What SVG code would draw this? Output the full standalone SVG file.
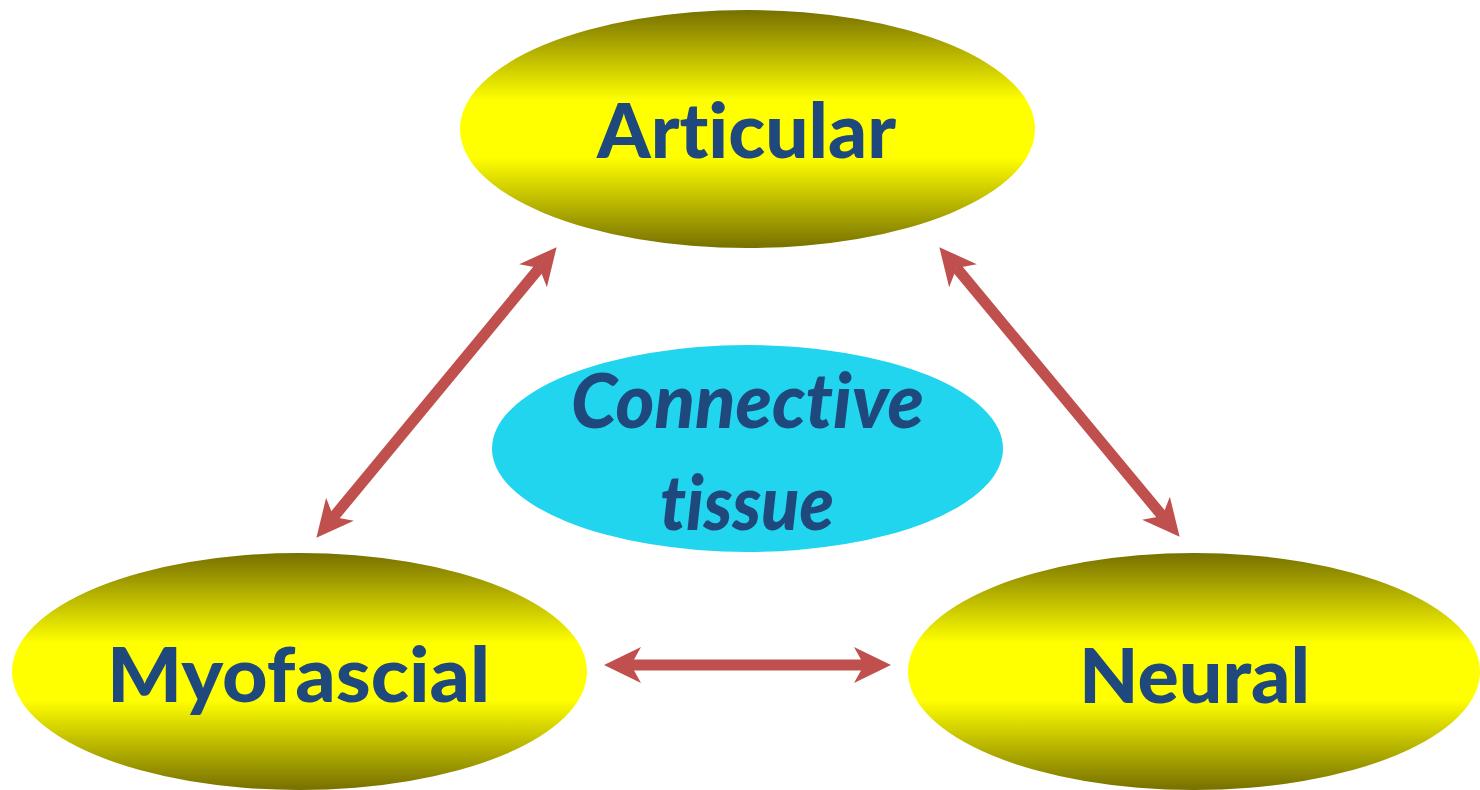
<svg xmlns="http://www.w3.org/2000/svg" width="1480" height="790" viewBox="0 0 1480 790">
<defs>
<linearGradient id="gold" x1="0" y1="0" x2="0" y2="1">
<stop offset="0" stop-color="#767000"/>
<stop offset="0.38" stop-color="#ffff00"/>
<stop offset="0.62" stop-color="#ffff00"/>
<stop offset="1" stop-color="#767000"/>
</linearGradient>
<marker id="head" markerUnits="userSpaceOnUse" viewBox="-12 -20 40 40" refX="0" refY="0" markerWidth="40" markerHeight="40" orient="auto-start-reverse">
<path d="M27,0 L-10,-18 L0,0 L-10,18 Z" fill="#c0504d"/>
</marker>
<style>
.node{fill:url(#gold);}
.lbl{font-family:"Lato","Open Sans","DejaVu Sans",sans-serif;font-weight:900;font-size:77px;fill:#1f497d;font-variant-ligatures:none;font-feature-settings:"liga" 0;}
.ital{font-style:italic;}
.conn{stroke:#c0504d;stroke-width:11;fill:none;marker-start:url(#head);marker-end:url(#head);}
</style>
</defs>
<g id="connective">
<ellipse cx="747.5" cy="448.5" rx="255.5" ry="103.5" fill="#21d5ee"/>
<text class="lbl ital" x="571" y="428" textLength="353" lengthAdjust="spacingAndGlyphs">Connective</text>
<text class="lbl ital" x="660" y="530" textLength="174" lengthAdjust="spacingAndGlyphs">tissue</text>
</g>
<g id="articular">
<ellipse class="node" cx="747.5" cy="129" rx="287.5" ry="119"/>
<text class="lbl" x="597" y="158" textLength="299" lengthAdjust="spacingAndGlyphs">Articular</text>
</g>
<g id="myofascial">
<ellipse class="node" cx="299.5" cy="671.5" rx="287.5" ry="118.5"/>
<text class="lbl" x="107" y="702" textLength="383" lengthAdjust="spacingAndGlyphs">Myofascial</text>
</g>
<g id="neural">
<ellipse class="node" cx="1194" cy="671.5" rx="286" ry="118.5"/>
<text class="lbl" x="1079" y="703" textLength="231" lengthAdjust="spacingAndGlyphs">Neural</text>
</g>
<g id="connectors">
<line class="conn" x1="333.6" y1="517" x2="539.4" y2="268"/>
<line class="conn" x1="956.6" y1="268" x2="1162.4" y2="516"/>
<line class="conn" x1="631" y1="665" x2="864" y2="665"/>
</g>
</svg>
